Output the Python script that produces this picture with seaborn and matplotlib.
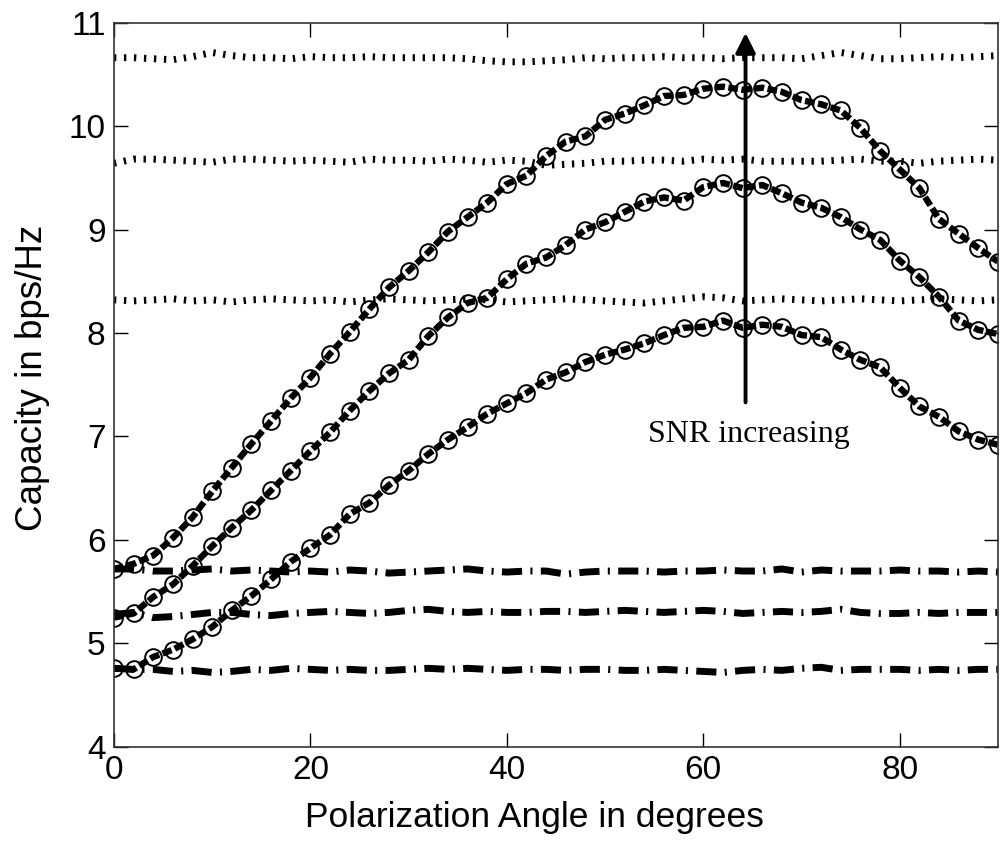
import matplotlib
matplotlib.use("Agg")
import matplotlib.pyplot as plt
import seaborn as sns

# ---------------- data ----------------
angles = [0, 2, 4, 6, 8, 10, 12, 14, 16, 18, 20, 22, 24, 26, 28, 30, 32, 34, 36, 38,
          40, 42, 44, 46, 48, 50, 52, 54, 56, 58, 60, 62, 64, 66, 68, 70, 72, 74, 76, 78,
          80, 82, 84, 86, 88, 90]

curve_high = [5.72, 5.77, 5.85, 6.02, 6.22, 6.47, 6.70, 6.93, 7.15, 7.37, 7.57, 7.80, 8.01,
              8.23, 8.44, 8.60, 8.78, 8.98, 9.12, 9.26, 9.44, 9.52, 9.71, 9.85, 9.90, 10.06,
              10.12, 10.20, 10.29, 10.30, 10.36, 10.38, 10.35, 10.37, 10.33, 10.25, 10.21,
              10.15, 9.98, 9.76, 9.58, 9.40, 9.10, 8.96, 8.82, 8.69]
curve_mid = [5.25, 5.29, 5.45, 5.57, 5.75, 5.94, 6.12, 6.29, 6.48, 6.67, 6.86, 7.04, 7.25,
             7.44, 7.61, 7.74, 7.97, 8.15, 8.29, 8.34, 8.52, 8.67, 8.73, 8.85, 9.00, 9.07,
             9.17, 9.27, 9.31, 9.28, 9.41, 9.45, 9.40, 9.43, 9.35, 9.26, 9.21, 9.12, 9.00,
             8.90, 8.70, 8.54, 8.35, 8.12, 8.03, 7.99]
curve_low = [4.76, 4.75, 4.87, 4.94, 5.04, 5.16, 5.32, 5.46, 5.62, 5.79, 5.92, 6.05, 6.25,
             6.36, 6.53, 6.67, 6.83, 6.97, 7.09, 7.22, 7.32, 7.42, 7.55, 7.62, 7.72, 7.79,
             7.84, 7.90, 7.98, 8.05, 8.06, 8.12, 8.05, 8.08, 8.06, 7.98, 7.96, 7.84, 7.74,
             7.67, 7.47, 7.29, 7.19, 7.05, 6.97, 6.92]

dotted_high = [10.66, 10.66, 10.65, 10.64, 10.67, 10.71, 10.68, 10.66, 10.66, 10.65, 10.67,
               10.66, 10.66, 10.67, 10.66, 10.66, 10.66, 10.66, 10.65, 10.63, 10.62, 10.62,
               10.63, 10.64, 10.66, 10.65, 10.66, 10.66, 10.67, 10.66, 10.66, 10.65, 10.66,
               10.66, 10.66, 10.65, 10.68, 10.71, 10.68, 10.65, 10.65, 10.66, 10.67, 10.66,
               10.67, 10.68]
dotted_mid = [9.64, 9.68, 9.68, 9.67, 9.66, 9.65, 9.68, 9.68, 9.67, 9.66, 9.67, 9.66, 9.65,
              9.68, 9.67, 9.67, 9.66, 9.68, 9.67, 9.65, 9.67, 9.66, 9.62, 9.63, 9.64, 9.66,
              9.66, 9.67, 9.67, 9.66, 9.68, 9.67, 9.68, 9.66, 9.66, 9.66, 9.66, 9.67, 9.68,
              9.66, 9.66, 9.64, 9.66, 9.67, 9.68, 9.67]
dotted_low = [8.32, 8.31, 8.32, 8.33, 8.31, 8.32, 8.30, 8.32, 8.33, 8.32, 8.31, 8.32, 8.30,
              8.32, 8.33, 8.32, 8.31, 8.32, 8.33, 8.32, 8.30, 8.31, 8.32, 8.33, 8.32, 8.31,
              8.30, 8.29, 8.31, 8.33, 8.35, 8.34, 8.31, 8.32, 8.33, 8.32, 8.31, 8.32, 8.33,
              8.32, 8.31, 8.32, 8.33, 8.32, 8.31, 8.32]

dashdot_high = [5.72, 5.72, 5.70, 5.70, 5.71, 5.72, 5.70, 5.71, 5.70, 5.69, 5.70, 5.69, 5.71,
                5.70, 5.68, 5.69, 5.70, 5.71, 5.72, 5.70, 5.69, 5.70, 5.70, 5.67, 5.69, 5.70,
                5.70, 5.70, 5.69, 5.70, 5.70, 5.71, 5.70, 5.70, 5.72, 5.69, 5.71, 5.70, 5.70,
                5.70, 5.71, 5.70, 5.70, 5.69, 5.70, 5.69]
dashdot_mid = [5.28, 5.30, 5.25, 5.26, 5.28, 5.30, 5.30, 5.28, 5.27, 5.29, 5.30, 5.31, 5.30,
               5.29, 5.30, 5.32, 5.33, 5.31, 5.30, 5.31, 5.30, 5.30, 5.31, 5.31, 5.30, 5.31,
               5.32, 5.31, 5.30, 5.31, 5.32, 5.31, 5.29, 5.30, 5.31, 5.30, 5.31, 5.33, 5.30,
               5.29, 5.29, 5.30, 5.29, 5.30, 5.30, 5.30]
dashdot_low = [4.76, 4.75, 4.75, 4.73, 4.74, 4.72, 4.73, 4.75, 4.74, 4.76, 4.75, 4.74, 4.75,
               4.74, 4.74, 4.75, 4.76, 4.75, 4.76, 4.75, 4.74, 4.75, 4.75, 4.74, 4.75, 4.75,
               4.74, 4.74, 4.75, 4.74, 4.73, 4.72, 4.74, 4.75, 4.74, 4.76, 4.77, 4.74, 4.75,
               4.75, 4.75, 4.74, 4.75, 4.74, 4.75, 4.75]

x_ticks = [0, 20, 40, 60, 80]
y_ticks = [4, 5, 6, 7, 8, 9, 10, 11]
x_label = "Polarization Angle in degrees"
y_label = "Capacity in bps/Hz"
annotation = "SNR increasing"
arrow_x = 64.3
arrow_from = 7.33
arrow_to = 10.9

# ---------------- style ----------------
sns.set_style("white")
plt.rcParams["font.family"] = ["Liberation Sans", "DejaVu Sans"]
plt.rcParams["lines.scale_dashes"] = False
plt.rcParams["lines.dash_capstyle"] = "butt"
plt.rcParams["text.color"] = "black"
plt.rcParams["axes.labelcolor"] = "black"

fig = plt.figure(figsize=(10.04, 8.43), dpi=100)
ax = fig.add_axes([0.1135, 0.1139, 0.8805, 0.8594])

curve_style = dict(color="black", linewidth=4.6, linestyle=(0, (7, 2.5)),
                   marker="o", markersize=12, markerfacecolor="none",
                   markeredgecolor="black", markeredgewidth=1.4)
dotted_style = dict(color="black", linewidth=5.0, linestyle=(0, (1.7, 5.5)))
dashdot_style = dict(color="black", linewidth=5.0, linestyle=(0, (14.5, 6, 1.5, 6)))

for series in (dotted_high, dotted_mid, dotted_low):
    sns.lineplot(x=angles, y=series, ax=ax, **dotted_style)
for series in (dashdot_high, dashdot_mid, dashdot_low):
    sns.lineplot(x=angles, y=series, ax=ax, **dashdot_style)
for series in (curve_high, curve_mid, curve_low):
    sns.lineplot(x=angles, y=series, ax=ax, **curve_style)

ax.annotate("", xy=(arrow_x, arrow_to), xytext=(arrow_x, arrow_from),
            arrowprops=dict(arrowstyle="-|>", lw=2.8, color="black",
                            mutation_scale=30, shrinkA=0, shrinkB=0))
ax.text(64.6, 7.02, annotation, ha="center", va="center", fontsize=23,
        family=["Liberation Serif", "DejaVu Serif"], color="black")

ax.set_xlim(0, 90)
ax.set_ylim(4, 11)
ax.set_xticks(x_ticks)
ax.set_yticks(y_ticks)
ax.tick_params(direction="in", length=10, width=1.0, top=True, right=True,
               bottom=True, left=True, labelsize=24, colors="black", pad=6)
ax.set_xlabel(x_label, fontsize=25.5, color="black")
ax.xaxis.set_label_coords(0.476, -0.074)
ax.set_ylabel(y_label, fontsize=26.5, color="black")
ax.yaxis.set_label_coords(-0.072, 0.51)
for s in ax.spines.values():
    s.set_visible(True)
    s.set_color("#333333")
    s.set_linewidth(1.2)

fig.savefig("out.png", dpi=100)
